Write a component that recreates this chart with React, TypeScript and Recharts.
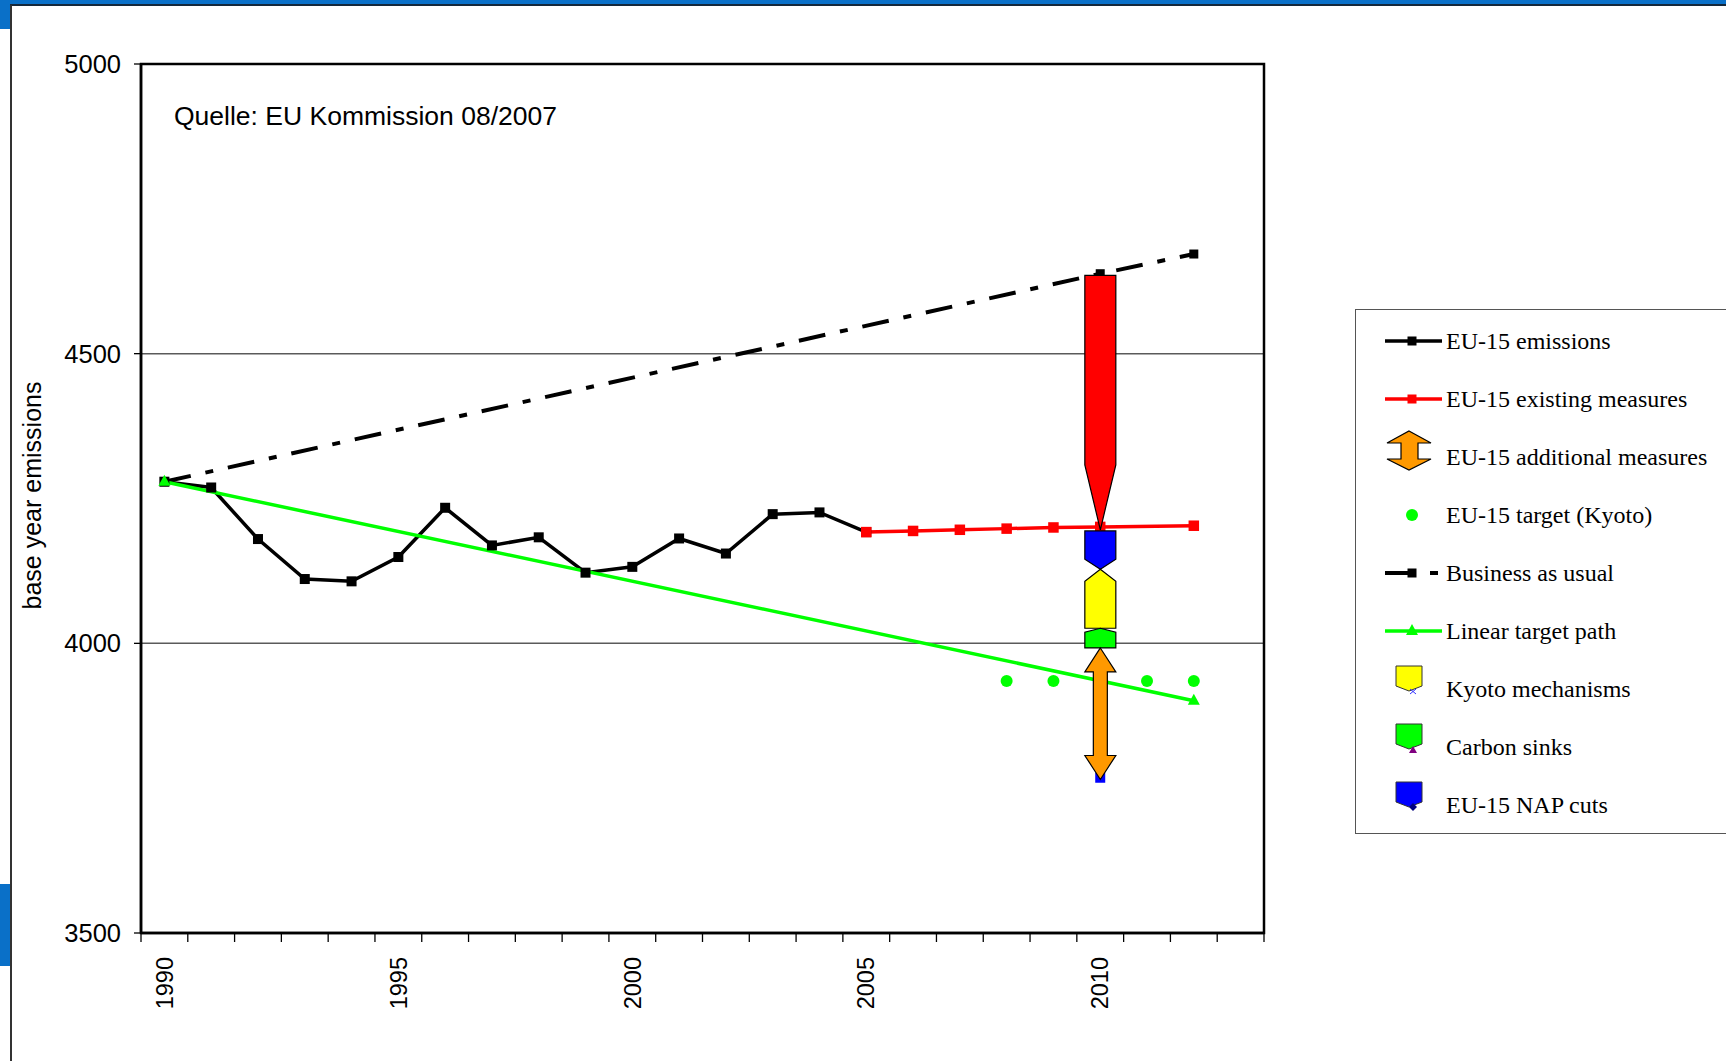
import { ComposedChart, Line, Bar, XAxis, YAxis, CartesianGrid, ReferenceArea } from 'recharts';

const N = null;

const years = [1990, 1991, 1992, 1993, 1994, 1995, 1996, 1997, 1998, 1999, 2000, 2001, 2002, 2003, 2004, 2005, 2006, 2007, 2008, 2009, 2010, 2011, 2012, 2013];
const labelYears = [1990, 1995, 2000, 2005, 2010];
const yTicks = [3500, 4000, 4500, 5000];

// one entry per year, 1990..2013
const emissions = [4279, 4269, 4180, 4111, 4107, 4149, 4234, 4169, 4183, 4122, 4132, 4181, 4155, 4223, 4226, 4192, N, N, N, N, N, N, N, N];
const existingMeasures = [N, N, N, N, N, N, N, N, N, N, N, N, N, N, N, 4192, 4194, 4196, 4198, 4200, 4201, N, 4203, N];
const businessAsUsual = [4279, N, N, N, N, N, N, N, N, N, N, N, N, N, N, N, N, N, N, N, 4638, N, 4672, N];
const linearTarget = [4279, N, N, N, N, N, N, N, N, N, N, N, N, N, N, N, N, N, N, N, N, N, 3901, N];
const kyotoTarget = [N, N, N, N, N, N, N, N, N, N, N, N, N, N, N, N, N, N, 3935, 3935, 3935, 3935, 3935, N];
const napMarker = [N, N, N, N, N, N, N, N, N, N, N, N, N, N, N, N, N, N, N, N, 3768, N, N, N];

// 2010 gap bars, [low, high]
const arrowYear = 2010;
const existingCut = [4196, 4635];
const napCuts = [4128, 4194];
const kyotoMechanisms = [4026, 4128];
const carbonSinks = [3992, 4026];
const additionalMeasures = [3765, 3992];

const legendNames = [
  'EU-15 emissions',
  'EU-15 existing measures',
  'EU-15 additional measures',
  'EU-15 target (Kyoto)',
  'Business as usual',
  'Linear target path',
  'Kyoto mechanisms',
  'Carbon sinks',
  'EU-15 NAP cuts',
];

const data = years.map((year, i) => ({
  year,
  emissions: emissions[i],
  existingMeasures: existingMeasures[i],
  businessAsUsual: businessAsUsual[i],
  linearTarget: linearTarget[i],
  kyotoTarget: kyotoTarget[i],
  napMarker: napMarker[i],
  existingCut: year === arrowYear ? existingCut : null,
  napCuts: year === arrowYear ? napCuts : null,
  kyotoMechanisms: year === arrowYear ? kyotoMechanisms : null,
  carbonSinks: year === arrowYear ? carbonSinks : null,
  additionalMeasures: year === arrowYear ? additionalMeasures : null,
}));

const boundaryTicks = [...years.map((y) => y - 0.5), 2013.5];
const xTicks = [...boundaryTicks, ...labelYears];

const SANS = '"Liberation Sans", Arial, sans-serif';
const SERIF = '"Liberation Serif", "Times New Roman", serif';

const squareDot = (color: string, size: number) => (props: any) => {
  const { cx, cy, index } = props;
  if (cx == null || cy == null || Number.isNaN(cy)) return <g key={index} />;
  return <rect key={index} x={cx - size / 2} y={cy - size / 2} width={size} height={size} fill={color} />;
};

const triangleDot = (color: string) => (props: any) => {
  const { cx, cy, index } = props;
  if (cx == null || cy == null || Number.isNaN(cy)) return <g key={index} />;
  return <polygon key={index} points={`${cx},${cy - 7} ${cx + 6},${cy + 4} ${cx - 6},${cy + 4}`} fill={color} />;
};

const circleDot = (color: string, r: number) => (props: any) => {
  const { cx, cy, index } = props;
  if (cx == null || cy == null || Number.isNaN(cy)) return <g key={index} />;
  return <circle key={index} cx={cx} cy={cy} r={r} fill={color} />;
};

type Build = (x: number, y: number, w: number, h: number) => number[][];

const arrowShape = (key: string, fill: string, build: Build) => (props: any) => {
  const { x, y, width, height, payload } = props;
  if (!payload || payload[key] == null || !Number.isFinite(y) || !Number.isFinite(height)) return <g />;
  const top = Math.min(y, y + height);
  const h = Math.abs(height);
  const pts = build(x, top, width, h).map((p) => p.join(',')).join(' ');
  return <polygon points={pts} fill={fill} stroke="#000" strokeWidth={1.2} strokeLinejoin="miter" />;
};

const redArrow: Build = (x, y, w, h) => [[x, y], [x + w, y], [x + w, y + h * 0.745], [x + w / 2, y + h], [x, y + h * 0.745]];
const blueChevron: Build = (x, y, w, h) => [[x, y], [x + w, y], [x + w, y + h - 10], [x + w / 2, y + h], [x, y + h - 10]];
const yellowBlock: Build = (x, y, w, h) => [[x + w / 2, y], [x + w, y + 12], [x + w, y + h], [x, y + h], [x, y + 12]];
const greenBlock: Build = (x, y, w, h) => [[x + w / 2, y], [x + w, y + 4], [x + w, y + h], [x, y + h], [x, y + 4]];
const doubleArrow: Build = (x, y, w, h) => {
  const cx = x + w / 2;
  const hw = 7;
  const head = 24;
  return [
    [cx, y], [x + w, y + head], [cx + hw, y + head], [cx + hw, y + h - head], [x + w, y + h - head],
    [cx, y + h], [x, y + h - head], [cx - hw, y + h - head], [cx - hw, y + head], [x, y + head],
  ];
};

const renderYearTick = (props: any) => {
  const { x, y, payload } = props;
  const v = payload.value;
  if (labelYears.includes(v)) {
    const ty = y + 24;
    return (
      <text x={x} y={ty} transform={`rotate(-90, ${x}, ${ty})`} textAnchor="end" dy="0.35em" fontSize={23.5} fontFamily={SANS} fill="#000">
        {v}
      </text>
    );
  }
  return <line x1={x} y1={y} x2={x} y2={y + 9} stroke="#000" strokeWidth={1.3} />;
};

const LegendIcon = ({ i, cy }: { i: number; cy: number }) => {
  switch (i) {
    case 0:
    case 1: {
      const c = i === 0 ? '#000' : '#ff0000';
      return (
        <g>
          <line x1={29} y1={cy} x2={86} y2={cy} stroke={c} strokeWidth={3.5} />
          <rect x={51.5} y={cy - 4.5} width={9} height={9} fill={c} />
        </g>
      );
    }
    case 2:
      return (
        <polygon
          points={`53,${cy - 26} 75,${cy - 14} 62,${cy - 14} 62,${cy + 2} 75,${cy + 2} 53,${cy + 13} 31,${cy + 2} 45,${cy + 2} 45,${cy - 14} 31,${cy - 14}`}
          fill="#ff9900"
          stroke="#000"
          strokeWidth={1.2}
        />
      );
    case 3:
      return <circle cx={56} cy={cy} r={6} fill="#00ff00" />;
    case 4:
      return (
        <g>
          <line x1={29} y1={cy} x2={53} y2={cy} stroke="#000" strokeWidth={4} />
          <rect x={51.5} y={cy - 4.5} width={9} height={9} fill="#000" />
          <line x1={74} y1={cy} x2={82} y2={cy} stroke="#000" strokeWidth={4} />
        </g>
      );
    case 5:
      return (
        <g>
          <line x1={29} y1={cy} x2={86} y2={cy} stroke="#00ff00" strokeWidth={3.5} />
          <polygon points={`56,${cy - 7} 62,${cy + 4} 50,${cy + 4}`} fill="#00ff00" />
        </g>
      );
    default: {
      const fills = ['#ffff00', '#00ff00', '#0000ff'];
      const f = fills[i - 6];
      const pent = `40,${cy - 23} 66,${cy - 23} 66,${cy - 3} 53,${cy + 2} 40,${cy - 3}`;
      return (
        <g>
          <polygon points={pent} fill={f} stroke="#333" strokeWidth={1} />
          {i === 6 && (
            <g stroke="#3333ff" strokeWidth={1}>
              <line x1={54} y1={cy} x2={60} y2={cy + 5} />
              <line x1={60} y1={cy} x2={54} y2={cy + 5} />
            </g>
          )}
          {i === 7 && <polygon points={`57,${cy - 1} 61,${cy + 6} 53,${cy + 6}`} fill="#800080" />}
          {i === 8 && <polygon points={`57,${cy - 2} 61,${cy + 2} 57,${cy + 6} 53,${cy + 2}`} fill="#000080" />}
        </g>
      );
    }
  }
};

export default function App() {
  return (
    <div style={{ position: 'fixed', left: 0, top: 0, width: 1726, height: 1061, background: '#fff', overflow: 'hidden' }}>
      <div style={{ position: 'absolute', left: 0, top: 0 }}>
        <ComposedChart width={1726} height={1061} data={data} margin={{ top: 64, right: 462, bottom: 0, left: 0 }}>
          <CartesianGrid vertical={false} stroke="#5a5a5a" strokeWidth={1.5} />
          <XAxis
            dataKey="year"
            type="number"
            domain={[1989.5, 2013.5]}
            allowDataOverflow
            ticks={xTicks}
            interval={0}
            tickLine={false}
            tickSize={0}
            tickMargin={0}
            height={128}
            axisLine={{ stroke: '#000', strokeWidth: 2.5 }}
            tick={renderYearTick}
          />
          <XAxis xAxisId="a1" dataKey="year" type="category" hide />
          <XAxis xAxisId="a2" dataKey="year" type="category" hide />
          <XAxis xAxisId="a3" dataKey="year" type="category" hide />
          <XAxis xAxisId="a4" dataKey="year" type="category" hide />
          <XAxis xAxisId="a5" dataKey="year" type="category" hide />
          <YAxis
            domain={[3500, 5000]}
            ticks={yTicks}
            allowDataOverflow
            width={141}
            tickSize={7}
            tickMargin={13}
            axisLine={{ stroke: '#000', strokeWidth: 2.5 }}
            tickLine={{ stroke: '#000', strokeWidth: 1.3 }}
            tick={{ fill: '#000', fontSize: 25.5, fontFamily: SANS }}
            label={{
              content: ({ viewBox }: any) => {
                const cx = 32;
                const cy = viewBox.y + viewBox.height / 2 - 3;
                return (
                  <text x={cx} y={cy} transform={`rotate(-90, ${cx}, ${cy})`} textAnchor="middle" dy="0.35em" fontSize={25} fontFamily={SANS} fill="#000">
                    base year emissions
                  </text>
                );
              },
            }}
          />
          <ReferenceArea x1={1989.5} x2={2013.5} y1={3500} y2={5000} fill="none" stroke="#000" strokeWidth={2.5} ifOverflow="visible" />

          <Line dataKey="emissions" stroke="#000" strokeWidth={3.5} dot={squareDot('#000', 10)} activeDot={false} isAnimationActive={false} />
          <Line dataKey="businessAsUsual" stroke="#000" strokeWidth={4} strokeDasharray="27 15 8 15" connectNulls dot={squareDot('#000', 9)} activeDot={false} isAnimationActive={false} />
          <Line dataKey="existingMeasures" stroke="#ff0000" strokeWidth={3.5} connectNulls dot={squareDot('#ff0000', 10.5)} activeDot={false} isAnimationActive={false} />
          <Line dataKey="linearTarget" stroke="#00ff00" strokeWidth={3.5} connectNulls dot={triangleDot('#00ff00')} activeDot={false} isAnimationActive={false} />
          <Line dataKey="kyotoTarget" stroke="none" strokeWidth={0} dot={circleDot('#00ff00', 6)} activeDot={false} isAnimationActive={false} />
          <Line dataKey="napMarker" stroke="none" strokeWidth={0} dot={squareDot('#0000ff', 10)} activeDot={false} isAnimationActive={false} />

          <Bar xAxisId="a1" dataKey="existingCut" barSize={31} zIndex={700} shape={arrowShape('existingCut', '#ff0000', redArrow)} isAnimationActive={false} />
          <Bar xAxisId="a2" dataKey="napCuts" barSize={31} zIndex={700} shape={arrowShape('napCuts', '#0000ff', blueChevron)} isAnimationActive={false} />
          <Bar xAxisId="a3" dataKey="kyotoMechanisms" barSize={31} zIndex={700} shape={arrowShape('kyotoMechanisms', '#ffff00', yellowBlock)} isAnimationActive={false} />
          <Bar xAxisId="a4" dataKey="carbonSinks" barSize={31} zIndex={700} shape={arrowShape('carbonSinks', '#00ff00', greenBlock)} isAnimationActive={false} />
          <Bar xAxisId="a5" dataKey="additionalMeasures" barSize={31} zIndex={700} shape={arrowShape('additionalMeasures', '#ff9900', doubleArrow)} isAnimationActive={false} />
        </ComposedChart>
      </div>

      <div style={{ position: 'absolute', left: 174, top: 103, fontFamily: SANS, fontSize: 26.5, lineHeight: '26px', color: '#000', whiteSpace: 'nowrap' }}>
        Quelle: EU Kommission 08/2007
      </div>

      <div style={{ position: 'absolute', left: 1355, top: 309, width: 480, height: 523, borderTop: '1.3px solid #555', borderBottom: '1.3px solid #555', borderLeft: '1.3px solid #555', background: '#fff' }}>
        <svg width={480} height={523} style={{ display: 'block' }}>
          {legendNames.map((name, i) => {
            const cy = 31 + 58 * i;
            return (
              <g key={name}>
                <LegendIcon i={i} cy={cy} />
                <text x={90} y={cy} dy="0.35em" fontSize={24} fontFamily={SERIF} fill="#000">
                  {name}
                </text>
              </g>
            );
          })}
        </svg>
      </div>

      {/* slide frame bits */}
      <div style={{ position: 'absolute', left: 0, top: 0, width: 1726, height: 4, background: '#0a70c8' }} />
      <div style={{ position: 'absolute', left: 0, top: 4, width: 1726, height: 1.5, background: '#15283a' }} />
      <div style={{ position: 'absolute', left: 0, top: 0, width: 10, height: 29, background: '#0a70c8' }} />
      <div style={{ position: 'absolute', left: 0, top: 884, width: 10, height: 82, background: '#0a70c8' }} />
      <div style={{ position: 'absolute', left: 10, top: 5, width: 1.5, height: 1056, background: '#333' }} />
    </div>
  );
}
